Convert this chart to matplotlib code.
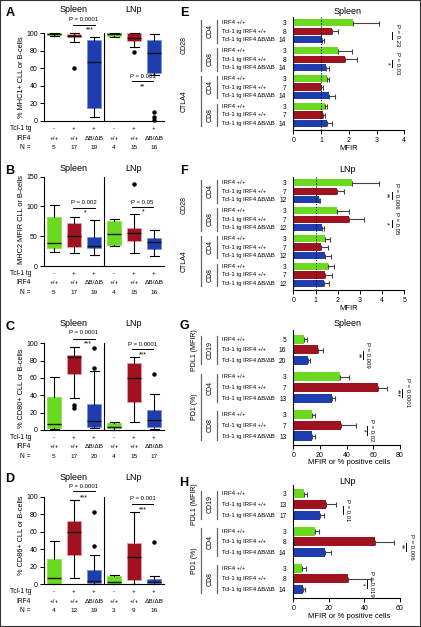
import matplotlib.pyplot as plt
from matplotlib.transforms import blended_transform_factory as blend
from matplotlib.patches import Rectangle

W, H = 421, 627
plt.rcParams['font.family'] = ['Liberation Sans', 'DejaVu Sans']
plt.rcParams['axes.linewidth'] = 0.8

GREEN, RED, BLUE = '#6bd91f', '#a11220', '#1e3daf'
EDGES = ['#8be050', '#e9a0a8', '#7d92d8']

# ---- box plot panels (A-D) ----
tcl = ['-', '+', '+', '-', '+', '+']
irf4 = ['+/+', '+/+', 'ΔB/ΔB', '+/+', '+/+', 'ΔB/ΔB']

a_lo = [97, 90, 4, 96, 84, 52]
a_q1 = [97.5, 95, 15, 97, 91, 54]
a_med = [98.5, 97, 67, 99, 94.5, 77]
a_q3 = [99.5, 99, 92, 99.8, 99.5, 92]
a_hi = [100, 100, 96, 100, 100, 99]
a_out = [[], [60], [], [], [78], [10, 5, 1.5]]
a_n = [5, 17, 19, 4, 15, 16]

b_lo = [24, 22, 18.5, 34, 22.5, 17.5]
b_q1 = [31, 31.5, 30, 35, 42, 28]
b_med = [38, 51, 34, 54, 56, 40.5]
b_q3 = [82, 72, 49, 75, 63.5, 46.6]
b_hi = [102, 83, 77.5, 79, 88, 60.7]
b_out = [[], [], [], [], [138], []]
b_n = [5, 17, 19, 4, 15, 16]

c_lo = [1, 36.5, 2, 0, 9, 1]
c_q1 = [2, 65, 4, 2, 32, 3]
c_med = [6.5, 84.6, 10.4, 4, 60.4, 12]
c_q3 = [38.5, 86.5, 29.6, 8, 77, 23]
c_hi = [61.5, 96, 68, 9, 84, 41]
c_out = [[], [29, 25], [95, 72], [], [], [65]]
c_n = [5, 17, 20, 4, 15, 17]

d_lo = [0, 7, 0, 0, 0, 0]
d_q1 = [0, 33.5, 1, 0.4, 5, 1]
d_med = [7, 60, 4, 3, 31, 3]
d_q3 = [29, 72, 16, 9.5, 47, 6]
d_hi = [49.5, 96, 33.5, 11, 83, 9.5]
d_out = [[], [], [83, 44], [], [], [48]]
d_n = [4, 12, 19, 3, 9, 16]

# (x1, x2, y line, y text, y stars, x stars, text, stars)
a_sig = [(1.95, 3.05, 109, 114.8, 103, 2.8, 'P = 0.0001', '***'),
         (4.9, 5.95, 45.5, 51, 38.6, 5.45, 'P = 0.003', '**')]
b_sig = [(1.95, 3.05, 97.5, 106, 89, 2.55, 'P = 0.002', '*'),
         (4.9, 5.95, 99, 107.5, 90.7, 5.45, 'P = 0.05', '*')]
c_sig = [(1.95, 3.05, 105, 112, 99, 2.7, 'P = 0.0001', '***'),
         (4.9, 5.95, 93.4, 99, 86.5, 5.45, 'P = 0.0001', '***')]
d_sig = [(1.95, 3.05, 106.5, 112, 98.5, 2.5, 'P = 0.0001', '***'),
         (4.9, 5.95, 91.7, 97.4, 84.8, 5.45, 'P = 0.001', '***')]

# ---- bar panels (E-H) ----
rows = ['IRF4 +/+', 'Tcl-1 tg IRF4 +/+', 'Tcl-1 tg IRF4 ΔB/ΔB']

e_vals = [2.15, 1.4, 1.05, 1.6, 1.88, 1.18, 1.22, 1.0, 1.3, 1.15, 1.08, 1.2]
e_errs = [0.95, 0.22, 0.05, 0.5, 0.4, 0.1, 0.08, 0.07, 0.2, 0.08, 0.06, 0.2]
e_n = [3, 8, 14, 3, 8, 14, 3, 7, 14, 3, 7, 14]
f_vals = [2.65, 1.97, 1.15, 1.95, 2.5, 1.3, 1.45, 1.25, 1.45, 1.55, 1.45, 1.4]
f_errs = [1.2, 0.3, 0.05, 0.55, 0.7, 0.1, 0.2, 0.3, 0.25, 0.3, 0.3, 0.2]
f_n = [3, 7, 12, 3, 7, 12, 3, 7, 12, 3, 7, 12]
ef_inner = ['CD4', 'CD8', 'CD4', 'CD8']
ef_outer = [('CD28', 0, 1), ('CTLA4', 2, 3)]

g_vals = [8, 18.5, 11, 35, 63.5, 29, 14, 36, 14]
g_errs = [2.5, 3.5, 1.5, 6.5, 7, 2.5, 2.5, 11, 2]
g_n = [5, 16, 20, 3, 7, 13, 3, 7, 13]
h_vals = [6, 18.5, 15, 12, 46, 18, 5, 30.5, 5.5]
h_errs = [1.5, 5.5, 2.5, 2.5, 10.5, 3, 2, 13, 1]
h_n = [3, 13, 17, 3, 8, 14, 3, 8, 14]
gh_inner = ['CD19', 'CD4', 'CD8']
gh_outer = [('PDL1 (MFIR)', 0, 0), ('PD1 (%)', 1, 2)]

# (group, x stars, x line, x text, stars, text)
e_sig = [(0, None, 3.56, 3.74, '', 'P = 0.23'), (1, 3.38, 3.56, 3.74, '*', 'P = 0.03')]
f_sig = [(0, 4.17, 4.44, 4.67, '**', 'P = 0.006'), (1, 4.17, 4.44, 4.67, '*', 'P = 0.05')]
g_sig = [(0, 48.5, 52.3, 56, '**', 'P = 0.009'), (1, 77.8, 81.5, 85.3, '***', 'P = 0.0001'),
         (2, 52.3, 55.3, 59, '*', 'P = 0.02')]
h_sig = [(0, None, 27.9, 30.7, '', 'P = 0.01'), (1, 60.3, 63.1, 66.5, '**', 'P = 0.006'),
         (2, 38.6, 41.4, 44.2, '*', 'P = 0.019')]

fig = plt.figure(figsize=(W / 100, H / 100), dpi=100)


def rect(l, t, r, b):
    return [l / W, 1 - b / H, (r - l) / W, (b - t) / H]


def ftext(x, y, s, **kw):
    fig.text(x / W, 1 - y / H, s, **kw)


def box_panel(letter, top, bot, ymax, ticks, ylab, lo, q1, med, q3, hi, out, n, sigs, title_y, ylab_y):
    ax = fig.add_axes(rect(44, top, 164, bot))
    stats = [dict(whislo=a, q1=b, med=c, q3=d, whishi=e, fliers=f)
             for a, b, c, d, e, f in zip(lo, q1, med, q3, hi, out)]
    bp = ax.bxp(stats, positions=range(1, 7), widths=0.66, capwidths=0.45, patch_artist=True,
                whiskerprops=dict(lw=0.8), capprops=dict(lw=0.8),
                medianprops=dict(color='#111111', lw=1.0),
                flierprops=dict(marker='o', ms=2.2, mfc='k', mec='k'))
    for p, c, e in zip(bp['boxes'], [GREEN, RED, BLUE] * 2, EDGES * 2):
        p.set(facecolor=c, edgecolor=e, lw=0.6)
    for key in bp:
        for art in bp[key]:
            art.set_clip_on(False)
    ax.axvline(3.5, color='k', lw=0.8)
    ax.set_xlim(0.5, 6.5)
    ax.set_ylim(0, ymax)
    ax.set_yticks(ticks)
    ax.set_xticks([])
    ax.tick_params(axis='y', length=3, width=0.7, labelsize=5, pad=1.5)
    for s in ['top', 'right']:
        ax.spines[s].set_visible(False)
    tr = blend(ax.transData, fig.transFigure)
    for k, (name, row) in enumerate(zip(['Tcl-1 tg', 'IRF4', 'N ='], [tcl, irf4, n])):
        ypx = bot + 7.5 + 9.5 * k
        ftext(31, ypx, name, ha='right', va='center', fontsize=4.8)
        for x, s in enumerate(row, 1):
            ax.text(x, 1 - ypx / H, str(s), transform=tr, ha='center', va='center', fontsize=4.6)
    for x1, x2, yl, yt, ys, xs, txt, stars in sigs:
        ax.plot([x1, x2], [yl, yl], color='k', lw=0.7, clip_on=False)
        ax.text((x1 + x2) / 2, yt, txt, ha='center', va='center', fontsize=4.3)
        ax.text(xs, ys, stars, ha='center', va='center', fontsize=5)
    ftext(74, title_y, 'Spleen', ha='center', va='center', fontsize=6.5)
    ftext(133, title_y, 'LNp', ha='center', va='center', fontsize=6.5)
    ftext(22, ylab_y, ylab, rotation=90, ha='center', va='center', fontsize=5.3)
    ftext(10, title_y + 2.5, letter, ha='center', va='center', fontsize=9, fontweight='bold')


def bar_panel(letter, top, bot, right, xmax, xticks, step, ylim, vals, errs, ns, inner, outer,
              outer_x, sigs, title, title_y, xlab, dotted):
    ax = fig.add_axes(rect(293.3, top, right, bot))
    ng = len(inner)
    u = [g * step + i for g in range(ng) for i in range(3)]
    ax.barh(u, vals, height=0.85, color=[GREEN, RED, BLUE] * ng,
            xerr=[[0] * len(errs), errs],
            error_kw=dict(ecolor='#444444', elinewidth=0.8, capsize=1.8, capthick=0.8))
    if dotted:
        ax.axvline(1, ls=':', color='k', lw=0.8)
    ax.set_xlim(0, xmax)
    ax.set_ylim(ylim[1], ylim[0])
    ax.set_xticks(xticks)
    ax.set_yticks(u, [str(v) for v in ns])
    ax.set_yticks([g * step + 1 for g in range(ng)], minor=True)
    ax.tick_params(axis='y', which='major', length=0, pad=5, labelsize=4.8)
    ax.tick_params(axis='y', which='minor', length=2.5, width=0.7)
    ax.tick_params(axis='x', length=3, width=0.7, labelsize=5, pad=2)
    for s in ['top', 'right']:
        ax.spines[s].set_visible(False)
    trl = blend(fig.transFigure, ax.transData)
    for k, y in enumerate(u):
        ax.text(222 / W, y, rows[k % 3], transform=trl, ha='left', va='center', fontsize=4.3)
    for g, name in enumerate(inner):
        ax.plot([217 / W] * 2, [g * step - 0.3, g * step + 2.35], transform=trl,
                color='#666666', lw=0.9, clip_on=False)
        ax.text(210 / W, g * step + 1, name, transform=trl, rotation=90,
                ha='center', va='center', fontsize=5)
    for name, g0, g1 in outer:
        ax.plot([201 / W] * 2, [g0 * step - 0.3, g1 * step + 2.35], transform=trl,
                color='#666666', lw=0.9, clip_on=False)
        ax.text(outer_x / W, (g0 * step + g1 * step + 2) / 2, name, transform=trl, rotation=90,
                ha='center', va='center', fontsize=5)
    for g, xs, xl, xt, stars, txt in sigs:
        y0, y1 = g * step + 1.1, g * step + 1.9
        ax.plot([xl, xl], [y0, y1], color='k', lw=0.7, clip_on=False)
        ax.text(xt, (y0 + y1) / 2, txt, rotation=-90, ha='center', va='center', fontsize=4.3)
        if stars:
            ax.text(xs, (y0 + y1) / 2, stars, rotation=-90, ha='center', va='center', fontsize=5)
    ftext(348, title_y, title, ha='center', va='center', fontsize=6.5)
    ftext(349, bot + 18, xlab, ha='center', va='center', fontsize=5.5)
    ftext(184, title_y + 2, letter, ha='center', va='center', fontsize=9, fontweight='bold')


box_panel('A', 33, 121, 100, [0, 20, 40, 60, 80, 100], '% MHC1+ CLL or B-cells',
          a_lo, a_q1, a_med, a_q3, a_hi, a_out, a_n, a_sig, 10, 77)
box_panel('B', 176.7, 266, 150, [0, 50, 100, 150], 'MHC2 MFIR CLL or B-cells',
          b_lo, b_q1, b_med, b_q3, b_hi, b_out, b_n, b_sig, 168, 220)
box_panel('C', 343.3, 430, 100, [0, 20, 40, 60, 80, 100], '% CD80+ CLL or B-cells',
          c_lo, c_q1, c_med, c_q3, c_hi, c_out, c_n, c_sig, 324, 388)
box_panel('D', 496.7, 584.3, 100, [0, 20, 40, 60, 80, 100], '% CD86+ CLL or B-cells',
          d_lo, d_q1, d_med, d_q3, d_hi, d_out, d_n, d_sig, 477, 535)

bar_panel('E', 16.7, 130, 404.3, 4, [0, 1, 2, 3, 4], 3.3, (-0.72, 12.68), e_vals, e_errs, e_n,
          ef_inner, ef_outer, 184, e_sig, 'Spleen', 11, 'MFIR', True)
bar_panel('F', 176.7, 290, 404.3, 5, [0, 1, 2, 3, 4, 5], 3.3, (-0.72, 12.68), f_vals, f_errs, f_n,
          ef_inner, ef_outer, 184, f_sig, 'LNp', 169, 'MFIR', True)
bar_panel('G', 330, 445, 400, 80, [0, 20, 40, 60, 80], 3.53, (-0.85, 9.9), g_vals, g_errs, g_n,
          gh_inner, gh_outer, 194, g_sig, 'Spleen', 324, 'MFIR or % positive cells', False)
bar_panel('H', 485, 598.3, 400, 60, [0, 20, 40, 60], 3.53, (-0.85, 9.9), h_vals, h_errs, h_n,
          gh_inner, gh_outer, 194, h_sig, 'LNp', 481, 'MFIR or % positive cells', False)

fig.add_artist(Rectangle((0, 0), 1, 1, transform=fig.transFigure, fill=False,
                         ec='#333333', lw=1.5))
fig.savefig('out.png', dpi=100)
